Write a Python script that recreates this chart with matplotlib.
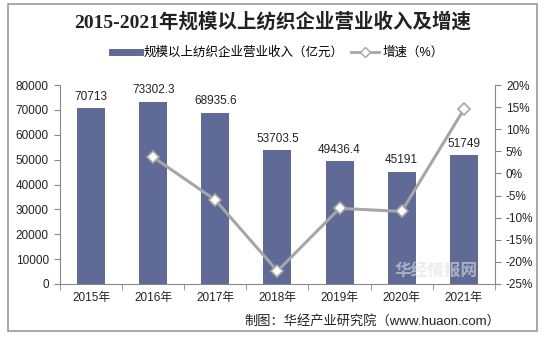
import numpy as np
import matplotlib
matplotlib.use('Agg')
import matplotlib.pyplot as plt
from matplotlib.lines import Line2D
from matplotlib.patches import Rectangle

plt.rcParams['font.family'] = ['Liberation Sans', 'Noto Sans CJK SC']

years = ['2015年', '2016年', '2017年', '2018年', '2019年', '2020年', '2021年']
revenue = [70713, 73302.3, 68935.6, 53703.5, 49436.4, 45191, 51749]
revenue_labels = ['70713', '73302.3', '68935.6', '53703.5', '49436.4', '45191', '51749']
growth = [None, 3.7, -6.0, -22.1, -7.9, -8.6, 14.5]

bar_color = '#5f6b96'
line_color = '#a6a6a6'
axis_color = '#888888'

fig = plt.figure(figsize=(5.45, 3.42), dpi=100)
ax = fig.add_axes([0.110, 0.170, 0.798, 0.581])
ax2 = ax.twinx()

x = np.arange(len(years))
ax.bar(x, revenue, width=0.45, color=bar_color, zorder=2)
for xi, v, lab in zip(x, revenue, revenue_labels):
    ax.text(xi, v + 2200, lab, ha='center', va='bottom', fontsize=8.5, color='#222222')

gx = [xi for xi, g in zip(x, growth) if g is not None]
gy = [g for g in growth if g is not None]
ax2.plot(gx, gy, color=line_color, lw=2.2, marker='D', markersize=6,
         markerfacecolor='white', markeredgecolor=line_color, markeredgewidth=1.2, zorder=3)

ax.set_xlim(-0.5, len(years) - 0.5)
ax.set_ylim(0, 80000)
ax.set_yticks(np.arange(0, 80001, 10000))
ax2.set_ylim(-25, 20)
ax2.set_yticks(np.arange(-25, 21, 5))
ax2.set_yticklabels([f'{t}%' for t in range(-25, 21, 5)])

ax.set_xticks(x)
ax.set_xticklabels(years)
ax.set_xticks(np.arange(-0.5, len(years), 1), minor=True)
ax.tick_params(axis='x', which='major', length=0, pad=6, labelsize=8.5, labelcolor='#222222')
ax.tick_params(axis='x', which='minor', length=4, color=axis_color, direction='out')
ax.tick_params(axis='y', length=4, color=axis_color, labelsize=8.5, labelcolor='#222222', pad=4)
ax2.tick_params(axis='y', length=4, color=axis_color, labelsize=8.5, labelcolor='#222222', pad=4)

for a in (ax, ax2):
    a.spines['top'].set_visible(False)
    for s in ('left', 'right', 'bottom'):
        a.spines[s].set_color(axis_color)
ax.spines['right'].set_visible(False)
ax2.spines['left'].set_visible(False)
ax2.spines['bottom'].set_visible(False)
ax.set_zorder(1)
ax2.set_zorder(2)
ax.patch.set_visible(False)

fig.text(0.5, 0.935, '2015-2021年规模以上纺织企业营业收入及增速', ha='center', va='center',
         fontsize=14, fontweight='bold', color='#222222',
         family=['Liberation Serif', 'Noto Sans CJK SC'])

handles = [Line2D([0], [0], color=bar_color, lw=5),
           Line2D([0], [0], color=line_color, lw=2, marker='D', markersize=5,
                  markerfacecolor='white', markeredgecolor=line_color)]
fig.legend(handles, ['规模以上纺织企业营业收入（亿元）', '增速（%）'], loc='center',
           bbox_to_anchor=(0.51, 0.845), ncol=2, frameon=False, fontsize=9,
           handlelength=2.2, columnspacing=0.6, handletextpad=0.3)

fig.text(0.918, 0.06, '制图：华经产业研究院（www.huaon.com）', ha='right', va='center',
         fontsize=9.5, color='#222222')
# faint watermark like the site logo, kept just above the axis
fig.text(0.80, 0.205, '华经情报网', ha='center', va='center', fontsize=12,
         fontweight='bold', color='#e0e0e0', alpha=0.6, zorder=5)

fig.patches.append(Rectangle((8 / 545, 1 - 331 / 342), 529 / 545, 327 / 342,
                             transform=fig.transFigure, fill=False,
                             edgecolor='#999999', lw=1.2))

fig.savefig('out.png', dpi=100)
